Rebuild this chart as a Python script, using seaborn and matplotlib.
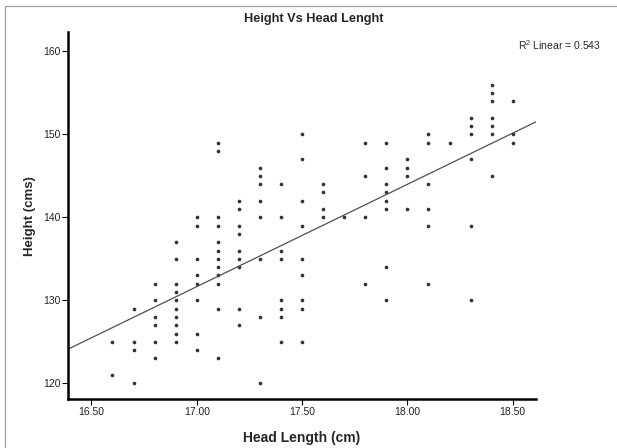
import matplotlib
matplotlib.use("Agg")
import matplotlib.pyplot as plt
import seaborn as sns
import pandas as pd
from matplotlib.lines import Line2D

# head length (cm) of every child, column by column
head_length = (
    [16.6] * 2 + [16.7] * 4 + [16.8] * 6 + [16.9] * 10 + [17.0] * 8
    + [17.1] * 12 + [17.2] * 9 + [17.3] * 8 + [17.4] * 8 + [17.5] * 9
    + [17.6] * 4 + [17.7] * 1 + [17.8] * 4 + [17.9] * 8 + [18.0] * 4
    + [18.1] * 6 + [18.2] * 1 + [18.3] * 6 + [18.4] * 7 + [18.5] * 3
)

# height (cms), same order as head_length
height = [
    125, 121,
    129, 125, 124, 120,
    132, 130, 128, 127, 125, 123,
    137, 135, 132, 131, 130, 129, 128, 127, 126, 125,
    140, 139, 135, 133, 132, 130, 126, 124,
    149, 148, 140, 139, 137, 136, 135, 134, 133, 132, 129, 123,
    142, 141, 139, 138, 136, 135, 134, 129, 127,
    146, 145, 144, 142, 140, 135, 128, 120,
    144, 140, 136, 135, 130, 129, 128, 125,
    150, 147, 142, 139, 135, 133, 130, 129, 125,
    144, 143, 141, 140,
    140,
    149, 145, 140, 132,
    149, 146, 144, 143, 142, 141, 134, 130,
    147, 146, 145, 141,
    150, 149, 144, 141, 139, 132,
    149,
    152, 151, 150, 147, 139, 130,
    156, 155, 154, 152, 151, 150, 145,
    154, 150, 149,
]

x_ticks = [16.5, 17.0, 17.5, 18.0, 18.5]
y_ticks = [120, 130, 140, 150, 160]
r2_label = "R$^2$ Linear = 0.543"

df = pd.DataFrame({"Head Length (cm)": head_length, "Height (cms)": height})

sns.set_style("ticks")
plt.rcParams["font.family"] = ["Liberation Sans", "DejaVu Sans"]
plt.rcParams["mathtext.default"] = "regular"

fig = plt.figure(figsize=(6.17, 4.48), dpi=100)
ax = fig.add_axes([0.1102, 0.1087, 0.8682 - 0.1102, 0.9279 - 0.1087])

# limits first so the fit line runs across the whole axis
ax.set_xlim(16.389, 18.609)
ax.set_ylim(118.07, 162.3)

sns.regplot(data=df, x="Head Length (cm)", y="Height (cms)", ax=ax,
            ci=None, truncate=False,
            scatter_kws={"s": 7, "color": "black", "linewidths": 0},
            line_kws={"color": "#505050", "linewidth": 0.9})

ax.set_xlim(16.389, 18.609)
ax.set_ylim(118.07, 162.3)
ax.set_xticks(x_ticks)
ax.set_xticklabels([f"{t:.2f}" for t in x_ticks])
ax.set_yticks(y_ticks)

sns.despine(ax=ax)
for side in ["left", "bottom"]:
    ax.spines[side].set_linewidth(1.8)
    ax.spines[side].set_color("black")
ax.tick_params(axis="both", length=4, width=0.8, color="black",
               labelsize=7.5, labelcolor="#222222", pad=1.5)

ax.set_xlabel("Head Length (cm)", fontsize=10, fontweight="bold", labelpad=10)
ax.set_ylabel("Height (cms)", fontsize=9.5, fontweight="bold", labelpad=5)

fig.text(314 / 617, 1 - 19 / 448, "Height Vs Head Lenght", ha="center",
         va="center", fontsize=9.2, fontweight="bold")
fig.text(559 / 617, 1 - 45 / 448, r2_label, ha="center", va="center",
         fontsize=7.5)

# grey chart frame (top and left edges only)
fig.add_artist(Line2D([5 / 617, 1], [1 - 6 / 448, 1 - 6 / 448],
                      transform=fig.transFigure, color="#a0a0a0", lw=0.9))
fig.add_artist(Line2D([5 / 617, 5 / 617], [0, 1 - 6 / 448],
                      transform=fig.transFigure, color="#a0a0a0", lw=0.9))

fig.savefig("out.png", dpi=100)
